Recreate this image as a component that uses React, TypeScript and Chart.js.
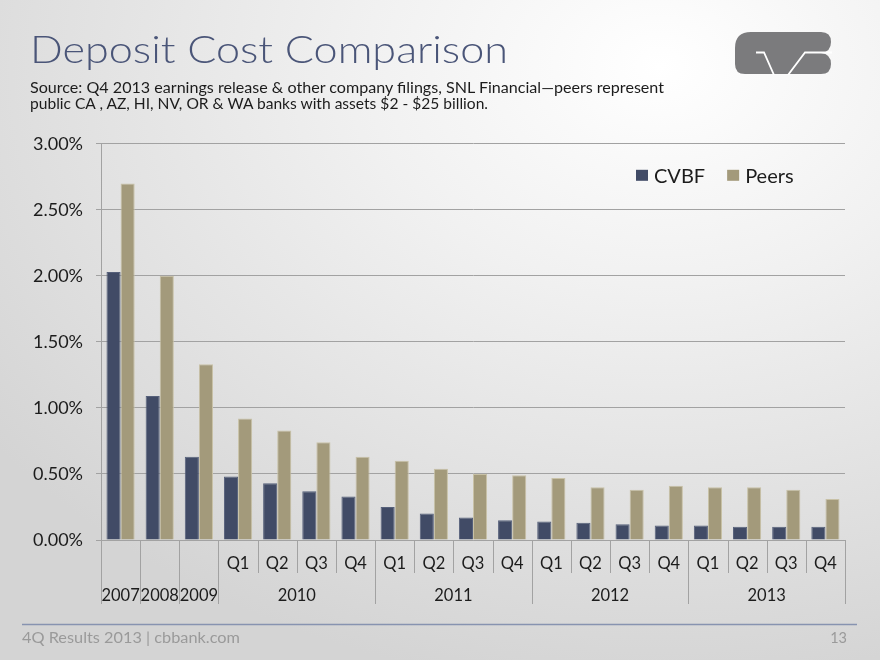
import React, { useEffect, useRef } from "react";
import { Chart, registerables } from "chart.js";

Chart.register(...registerables);

const categories = [
  "2007", "2008", "2009",
  "2010 Q1", "2010 Q2", "2010 Q3", "2010 Q4",
  "2011 Q1", "2011 Q2", "2011 Q3", "2011 Q4",
  "2012 Q1", "2012 Q2", "2012 Q3", "2012 Q4",
  "2013 Q1", "2013 Q2", "2013 Q3", "2013 Q4",
];
const quarterLabels = [
  "", "", "",
  "Q1", "Q2", "Q3", "Q4",
  "Q1", "Q2", "Q3", "Q4",
  "Q1", "Q2", "Q3", "Q4",
  "Q1", "Q2", "Q3", "Q4",
];
const yearLabels = ["2007", "2008", "2009", "2010", "2011", "2012", "2013"];
const yearSpans = [1, 1, 1, 4, 4, 4, 4];

const cvbf = [2.03, 1.09, 0.63, 0.48, 0.43, 0.37, 0.33, 0.25, 0.2, 0.17, 0.15, 0.14, 0.13, 0.12, 0.11, 0.11, 0.1, 0.1, 0.1];
const peers = [2.7, 2.0, 1.33, 0.92, 0.83, 0.74, 0.63, 0.6, 0.54, 0.5, 0.49, 0.47, 0.4, 0.38, 0.41, 0.4, 0.4, 0.38, 0.31];

const yMin = 0;
const yMax = 3;
const yStep = 0.5;

const FONT = "Lato, 'Open Sans', sans-serif";
const TEXT = "#1c1c1c";
const LINE = "#a2a2a2";

const twoLevelAxis = {
  id: "twoLevelAxis",
  afterDraw(chart: any) {
    const { ctx, scales, chartArea } = chart;
    const x = scales.x;
    const n = chart.data.labels.length;
    const step = x.getPixelForValue(1) - x.getPixelForValue(0);
    const edge = (i: number) => x.getPixelForValue(0) - step / 2 + i * step;
    const bottom = chartArea.bottom;
    const bounds: number[] = [0];
    yearSpans.forEach((s, i) => bounds.push(bounds[i] + s));

    ctx.save();
    ctx.strokeStyle = LINE;
    ctx.lineWidth = 1;
    for (let b = 0; b <= n; b++) {
      const long = bounds.includes(b);
      const px = Math.round(edge(b)) + 0.5;
      ctx.beginPath();
      ctx.moveTo(px, bottom);
      ctx.lineTo(px, bottom + (long ? 64 : 33));
      ctx.stroke();
    }
    ctx.fillStyle = TEXT;
    ctx.textAlign = "center";
    ctx.textBaseline = "middle";
    ctx.font = `16.5px ${FONT}`;
    quarterLabels.forEach((q, i) => {
      if (q) ctx.fillText(q, x.getPixelForValue(i), bottom + 24);
    });
    yearLabels.forEach((y, i) => {
      const cx = (edge(bounds[i]) + edge(bounds[i + 1])) / 2;
      ctx.fillText(y, cx, bottom + 56);
    });

    // legend
    ctx.font = `20px ${FONT}`;
    ctx.textAlign = "left";
    let lx = 636;
    const ly = chartArea.top + 32;
    chart.data.datasets.forEach((ds: any) => {
      ctx.fillStyle = ds.backgroundColor;
      ctx.fillRect(lx, ly - 6, 12, 11);
      ctx.fillStyle = TEXT;
      ctx.fillText(ds.label, lx + 18, ly + 1);
      lx += 18 + ctx.measureText(ds.label).width + 22;
    });
    ctx.restore();
  },
};

function Logo() {
  return (
    <svg style={{ position: "absolute", left: 735, top: 32 }} width={97} height={43} viewBox="0 0 97 43">
      <path
        d="M16 0 L86 0 Q96 0 96 10 Q96 20 86 21 Q96 22 96 32 Q96 42 86 42 L10 42 Q0 42 0 32 L0 16 Q0 0 16 0 Z"
        fill="#7b7b7d"
      />
      <polyline points="21,20.5 29,20.5 39,43" fill="none" stroke="#ffffff" strokeWidth={1.8} />
      <polyline points="53,43 70,20.5 97,20.5" fill="none" stroke="#ffffff" strokeWidth={1.8} />
    </svg>
  );
}

export default function App() {
  const ref = useRef<HTMLCanvasElement>(null);
  useEffect(() => {
    if (!ref.current) return;
    const chart = new Chart(ref.current, {
      type: "bar",
      data: {
        labels: categories,
        datasets: [
          {
            label: "CVBF",
            data: cvbf,
            backgroundColor: "#414b66",
            borderColor: "#56607a",
            borderWidth: 1,
            categoryPercentage: 0.72,
            barPercentage: 1.0,
          },
          {
            label: "Peers",
            data: peers,
            backgroundColor: "#a39a7b",
            borderColor: "#c8c1a6",
            borderWidth: 1,
            categoryPercentage: 0.72,
            barPercentage: 1.0,
          },
        ],
      },
      options: {
        animation: false,
        responsive: false,
        maintainAspectRatio: false,
        layout: { padding: { top: 20, right: 5, bottom: 4, left: 0 } },
        plugins: { legend: { display: false }, tooltip: { enabled: false } },
        scales: {
          x: {
            ticks: { display: false },
            grid: { display: false },
            border: { display: true, color: LINE },
            afterFit: (s: any) => {
              s.height = 66;
            },
          },
          y: {
            min: yMin,
            max: yMax,
            ticks: {
              stepSize: yStep,
              padding: 13,
              color: TEXT,
              font: { family: FONT, size: 18 },
              callback: (v: any) => Number(v).toFixed(2) + "%",
            },
            grid: { color: LINE, lineWidth: 1, tickLength: 5 },
            border: { display: true, color: LINE },
            afterFit: (s: any) => {
              s.width = 101;
            },
          },
        },
      },
      plugins: [twoLevelAxis],
    } as any);
    return () => chart.destroy();
  }, []);

  return (
    <div
      style={{
        position: "fixed",
        left: 0,
        top: 0,
        width: 880,
        height: 660,
        overflow: "hidden",
        background:
          "radial-gradient(ellipse 95% 95% at 75% 10%, #ffffff 0%, #f1f1f1 35%, #d4d4d4 100%)",
      }}
    >
      <svg style={{ position: "absolute", left: 0, top: 0 }} width={880} height={660}>
        <text x={30} y={63} fontFamily={FONT} fontWeight={300} fontSize={37} fill="#4a5578" textLength={478} lengthAdjust="spacingAndGlyphs">
          Deposit Cost Comparison
        </text>
        <text x={30} y={93} fontFamily={FONT} fontSize={15} fill="#1c1c1c" textLength={634} lengthAdjust="spacingAndGlyphs">
          Source: Q4 2013 earnings release &amp; other company filings, SNL Financial—peers represent
        </text>
        <text x={30} y={109} fontFamily={FONT} fontSize={15} fill="#1c1c1c" textLength={458} lengthAdjust="spacingAndGlyphs">
          public CA , AZ, HI, NV, OR &amp; WA banks with assets $2 - $25 billion.
        </text>
        <line x1={22} y1={624.5} x2={857} y2={624.5} stroke="#8793b0" strokeWidth={1.5} />
        <text x={22} y={643} fontFamily={FONT} fontSize={14.5} fill="#9a9a9a" textLength={218} lengthAdjust="spacingAndGlyphs">
          4Q Results 2013 | cbbank.com
        </text>
        <text x={847} y={643} fontFamily={FONT} fontSize={14.5} fill="#9a9a9a" textAnchor="end">
          13
        </text>
      </svg>
      <Logo />
      <canvas
        ref={ref}
        width={850}
        height={490}
        style={{ position: "absolute", left: 0, top: 120, width: 850, height: 490 }}
      />
    </div>
  );
}
